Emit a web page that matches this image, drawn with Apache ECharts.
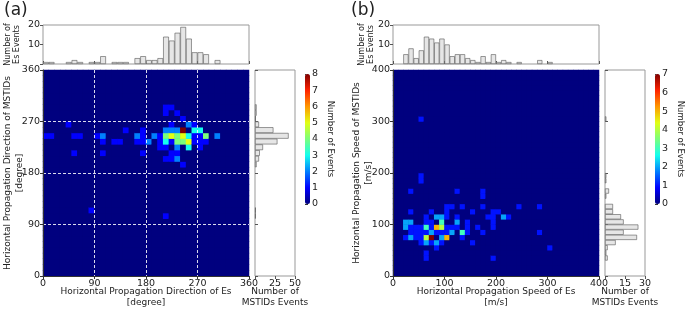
<!DOCTYPE html>
<html>
<head>
<meta charset="utf-8">
<script src="https://cdn.jsdelivr.net/npm/echarts@6/dist/echarts.min.js"></script>
<style>
  html, body { margin: 0; padding: 0; background: #fff; }
  #chart { width: 685px; height: 311px; }
</style>
</head>
<body>
<div id="chart"></div>
<script>
// 10 degree bins for direction, 10 m/s bins for speed
const dirBins = 36
const spdBins = 40

// (a) [Es direction bin, MSTID direction bin, events]
const dirCells = [
  [21, 29, 1], [22, 29, 1],
  [21, 28, 1], [23, 28, 1],
  [24, 27, 1],
  [4, 26, 1], [22, 26, 1], [25, 26, 2], [26, 26, 1],
  [14, 25, 1], [17, 25, 1], [21, 25, 2], [22, 25, 2], [23, 25, 2], [24, 25, 8], [26, 25, 3], [27, 25, 3],
  [0, 24, 1], [1, 24, 1], [5, 24, 1], [6, 24, 1], [9, 24, 1], [10, 24, 2], [16, 24, 2], [17, 24, 1],
  [19, 24, 2], [20, 24, 1], [21, 24, 4], [22, 24, 5], [23, 24, 4], [24, 24, 5], [25, 24, 3],
  [26, 24, 1], [27, 24, 1], [28, 24, 4], [30, 24, 2],
  [10, 23, 1], [12, 23, 1], [13, 23, 1], [16, 23, 1], [17, 23, 1], [18, 23, 2], [20, 23, 1],
  [21, 23, 3], [22, 23, 1], [23, 23, 4], [24, 23, 4], [25, 23, 5], [26, 23, 1], [27, 23, 1], [28, 23, 1],
  [20, 22, 1], [21, 22, 1], [23, 22, 2], [25, 22, 3], [27, 22, 1],
  [5, 21, 1], [10, 21, 1], [17, 21, 1], [22, 21, 1], [23, 21, 1],
  [21, 20, 1], [22, 20, 1], [23, 20, 2],
  [24, 19, 1],
  [8, 11, 1],
  [21, 10, 1]
]
const esDirHist = [1, 1, 0, 0, 1, 2, 1, 0, 1, 1, 4, 0, 1, 1, 1, 0, 3, 4, 2, 2,
  3, 14, 12, 16, 19, 13, 6, 6, 5, 0, 2, 0, 0, 0, 0, 0]
const mstidDirHist = [0, 0, 0, 0, 0, 0, 0, 0, 0, 0, 1, 1, 0, 0, 0, 0, 0, 0, 0, 2,
  5, 6, 10, 28, 42, 23, 5, 1, 2, 2, 0, 0, 0, 0, 0, 0]

// (b) [Es speed bin, MSTID speed bin, events]
const spdCells = [
  [5, 30, 1],
  [5, 19, 1], [5, 18, 1],
  [3, 16, 1], [12, 16, 1], [17, 16, 1],
  [17, 15, 1],
  [10, 13, 1], [11, 13, 1], [13, 13, 1], [17, 13, 1], [24, 13, 1], [28, 13, 1],
  [3, 12, 1], [7, 12, 1], [10, 12, 1], [15, 12, 1], [19, 12, 1], [20, 12, 1],
  [6, 11, 1], [8, 11, 2], [9, 11, 2], [10, 11, 1], [12, 11, 1], [18, 11, 1], [19, 11, 1], [21, 11, 2], [22, 11, 1],
  [2, 10, 2], [3, 10, 2], [6, 10, 1], [7, 10, 1], [9, 10, 3], [12, 10, 2], [14, 10, 1], [19, 10, 1],
  [2, 9, 2], [3, 9, 1], [4, 9, 1], [5, 9, 1], [6, 9, 3], [7, 9, 1], [8, 9, 5], [9, 9, 4], [10, 9, 1],
  [11, 9, 1], [12, 9, 1], [14, 9, 1], [16, 9, 1], [19, 9, 1],
  [3, 8, 1], [4, 8, 1], [5, 8, 1], [6, 8, 1], [7, 8, 2], [8, 8, 1], [9, 8, 1], [10, 8, 1], [11, 8, 2],
  [13, 8, 3], [14, 8, 1], [17, 8, 1], [28, 8, 1],
  [2, 7, 1], [3, 7, 2], [4, 7, 1], [5, 7, 1], [6, 7, 4], [7, 7, 7], [9, 7, 2], [10, 7, 5], [13, 7, 1],
  [5, 6, 1], [6, 6, 2], [7, 6, 1], [8, 6, 2], [9, 6, 1], [15, 6, 1],
  [8, 5, 1], [30, 5, 1],
  [6, 4, 1],
  [6, 3, 1], [19, 3, 1]
]
const esSpdHist = [0, 0, 5, 8, 3, 7, 14, 13, 11, 13, 10, 4, 5, 5, 3, 2, 1, 4, 1, 5,
  1, 2, 1, 0, 1, 0, 0, 0, 2, 0, 1, 0, 0, 0, 0, 0, 0, 0, 0, 0]
const mstidSpdHist = [0, 0, 0, 2, 1, 2, 8, 24, 14, 25, 14, 12, 6, 6, 0, 1, 3, 0, 1, 1,
  0, 0, 0, 0, 0, 0, 0, 0, 0, 0, 1, 0, 0, 0, 0, 0, 0, 0, 0, 0]

const jet = ['#00007f', '#0000ff', '#0080ff', '#15ffee', '#7bff7b', '#e2ff14', '#ff9700', '#ff2200', '#7f0000']

const font = 'DejaVu Sans'
const ink = '#222'
const boxGray = '#999'

function fullGrid(cells, n) {
  const out = []
  for (let i = 0; i < n; i++) for (let j = 0; j < n; j++) out.push([i, j, 0])
  cells.forEach(([i, j, v]) => { out[i * n + j][2] = v })
  return out
}
const binNames = n => Array.from({ length: n }, (_, i) => String(i))
const noZero = v => (v === 0 ? '' : v)
const bars = arr => arr.map(v => (v === 0 ? '-' : v))

const labelStyle = { color: ink, fontSize: 9.5, fontFamily: font, margin: 3 }
const nameStyle = { color: ink, fontSize: 9, lineHeight: 11, fontFamily: font }
const yNameStyle = { color: ink, fontSize: 9, lineHeight: 12, fontFamily: font }
const smallName = { color: ink, fontSize: 8, lineHeight: 9, fontFamily: font }

const hiddenCat = (gridIndex, n, position) => ({ type: 'category', gridIndex, position, data: binNames(n), show: false })

function plotAxis(gridIndex, position, max, step, name, nameGap, dashed) {
  return {
    type: 'value', gridIndex, position, min: 0, max, interval: step, z: 10,
    name, nameLocation: 'middle', nameGap, nameMoveOverlap: false,
    nameTextStyle: position === 'left' ? yNameStyle : nameStyle,
    axisLine: { show: true, lineStyle: { color: '#333', width: 1 } },
    axisTick: { show: true, length: 3, lineStyle: { color: '#333' } },
    axisLabel: labelStyle,
    splitLine: {
      show: dashed, showMinLine: false, showMaxLine: false,
      lineStyle: { color: '#fff', type: [3, 2], width: 1, opacity: 0.85 }
    }
  }
}

function histCat(gridIndex, n, step) {
  return {
    type: 'category', gridIndex, data: binNames(n), boundaryGap: true,
    axisLine: { show: false },
    axisTick: { show: true, inside: true, length: 3, interval: i => i % step === 0, lineStyle: { color: '#555' } },
    axisLabel: { show: false },
    splitLine: { show: false }
  }
}

function histVal(gridIndex, max, step, name, nameGap, nameRotate) {
  return {
    type: 'value', gridIndex, min: 0, max, interval: step,
    name, nameLocation: 'middle', nameGap, nameRotate, nameMoveOverlap: false,
    nameTextStyle: nameRotate ? smallName : nameStyle,
    axisLine: { show: false },
    axisTick: { show: true, length: 3, lineStyle: { color: '#555' } },
    axisLabel: Object.assign({}, labelStyle, { formatter: noZero }),
    splitLine: { show: false }
  }
}

function cbAxis(gridIndex, max) {
  return {
    type: 'value', gridIndex, position: 'right', min: 0, max, interval: 1,
    name: 'Number of Events', nameLocation: 'middle', nameGap: 16, nameRotate: -90,
    nameTextStyle: { color: ink, fontSize: 8.5, fontFamily: font },
    axisLine: { show: false },
    axisTick: { show: true, length: 3, lineStyle: { color: '#333' } },
    axisLabel: { color: ink, fontSize: 9.5, fontFamily: font, margin: 2 },
    splitLine: { show: false }
  }
}

const free = { outerBoundsMode: 'none', containLabel: false }
const heatBox = Object.assign({ show: true, borderWidth: 0, backgroundColor: jet[0] }, free)
const histBox = Object.assign({ show: true, borderColor: boxGray, borderWidth: 1, backgroundColor: 'transparent' }, free)
const barStyle = { color: '#e6e6e6', borderColor: '#555', borderWidth: 0.6 }

const option = {
  animation: false,
  textStyle: { fontFamily: font },
  graphic: [
    { type: 'text', left: 4, top: 2, style: { text: '(a)', fontSize: 17, fontFamily: font, fill: ink } },
    { type: 'text', left: 351, top: 2, style: { text: '(b)', fontSize: 17, fontFamily: font, fill: ink } }
  ],
  grid: [
    Object.assign({ left: 43, top: 70, width: 206, height: 206 }, heatBox),
    Object.assign({ left: 43, top: 25, width: 206, height: 39 }, histBox),
    Object.assign({ left: 255, top: 70, width: 40, height: 206 }, histBox),
    Object.assign({ left: 305, top: 74, width: 5, height: 130 }, free),
    Object.assign({ left: 393, top: 70, width: 206, height: 206 }, heatBox),
    Object.assign({ left: 393, top: 25, width: 206, height: 39 }, histBox),
    Object.assign({ left: 605, top: 70, width: 40, height: 206 }, histBox),
    Object.assign({ left: 655, top: 74, width: 5, height: 130 }, free)
  ],
  xAxis: [
    hiddenCat(0, dirBins, 'top'),
    plotAxis(0, 'bottom', 360, 90, 'Horizontal Propagation Direction of Es\n[degree]', 10, true),
    histCat(1, dirBins, 9),
    histVal(2, 50, 25, 'Number of\nMSTIDs Events', 10, 0),
    { type: 'value', gridIndex: 3, show: false },
    hiddenCat(4, spdBins, 'top'),
    plotAxis(4, 'bottom', 400, 100, 'Horizontal Propagation Speed of Es\n[m/s]', 10, false),
    histCat(5, spdBins, 10),
    histVal(6, 30, 15, 'Number of\nMSTIDs Events', 10, 0),
    { type: 'value', gridIndex: 7, show: false }
  ],
  yAxis: [
    hiddenCat(0, dirBins, 'right'),
    plotAxis(0, 'left', 360, 90, 'Horizontal Propagation Direction of MSTIDs\n[degree]', 17, true),
    histVal(1, 20, 10, 'Number of\nEs Events', 22, 90),
    histCat(2, dirBins, 9),
    cbAxis(3, 8),
    hiddenCat(4, spdBins, 'right'),
    plotAxis(4, 'left', 400, 100, 'Horizontal Propagation Speed of MSTIDs\n[m/s]', 18, false),
    histVal(5, 20, 10, 'Number of\nEs Events', 18, 90),
    histCat(6, spdBins, 10),
    cbAxis(7, 7)
  ],
  visualMap: [
    {
      type: 'continuous', seriesIndex: 0, dimension: 2, min: 0, max: 8,
      calculable: false, hoverLink: false, orient: 'vertical',
      left: 305, top: 74, itemWidth: 5, itemHeight: 130, padding: 0,
      inRange: { color: jet }
    },
    {
      type: 'continuous', seriesIndex: 3, dimension: 2, min: 0, max: 7,
      calculable: false, hoverLink: false, orient: 'vertical',
      left: 655, top: 74, itemWidth: 5, itemHeight: 130, padding: 0,
      inRange: { color: jet }
    }
  ],
  series: [
    { type: 'heatmap', xAxisIndex: 0, yAxisIndex: 0, data: fullGrid(dirCells, dirBins), silent: true },
    { type: 'bar', xAxisIndex: 2, yAxisIndex: 2, data: bars(esDirHist), barCategoryGap: '0%', itemStyle: barStyle, silent: true },
    { type: 'bar', xAxisIndex: 3, yAxisIndex: 3, data: bars(mstidDirHist), barCategoryGap: '0%', itemStyle: barStyle, silent: true },
    { type: 'heatmap', xAxisIndex: 5, yAxisIndex: 5, data: fullGrid(spdCells, spdBins), silent: true },
    { type: 'bar', xAxisIndex: 7, yAxisIndex: 7, data: bars(esSpdHist), barCategoryGap: '0%', itemStyle: barStyle, silent: true },
    { type: 'bar', xAxisIndex: 8, yAxisIndex: 8, data: bars(mstidSpdHist), barCategoryGap: '0%', itemStyle: barStyle, silent: true }
  ]
}

const chart = echarts.init(document.getElementById('chart'))
chart.setOption(option)
</script>
</body>
</html>
